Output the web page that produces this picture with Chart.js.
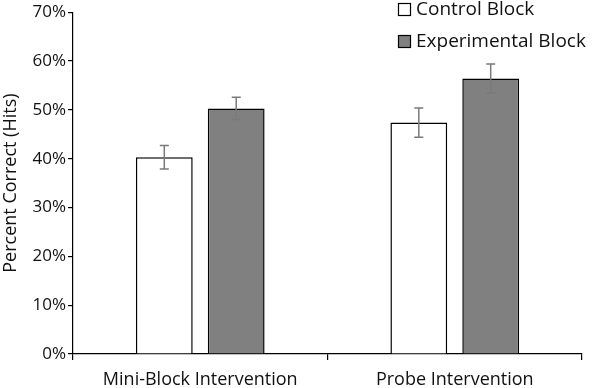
<!DOCTYPE html>
<html>
<head>
<meta charset="utf-8">
<script src="https://cdn.jsdelivr.net/npm/chart.js@4.4.0/dist/chart.umd.min.js"></script>
<style>
  html, body { margin: 0; padding: 0; background: #fff; }
  #wrap { width: 598px; height: 388px; }
</style>
</head>
<body>
<div id="wrap"><canvas id="myChart" width="598" height="388"></canvas></div>
<script>
// dados
var categorias = ['Mini-Block Intervention', 'Probe Intervention'];
var controle = [40.3, 47.4];
var controleErro = [2.4, 3.0];
var experimental = [50.3, 56.4];
var experimentalErro = [2.3, 3.0];
var ticksY = [0, 10, 20, 30, 40, 50, 60, 70];

var fonte = "'Open Sans', 'Lato', sans-serif";

// barras de erro
var barrasErro = {
  id: 'barrasErro',
  afterDatasetsDraw: function (chart) {
    var ctx = chart.ctx;
    var y = chart.scales.y;
    ctx.save();
    ctx.strokeStyle = '#7a7a7a';
    ctx.lineWidth = 1.5;
    chart.data.datasets.forEach(function (ds, i) {
      var meta = chart.getDatasetMeta(i);
      meta.data.forEach(function (bar, j) {
        var v = ds.data[j], e = ds.erro[j];
        var x = bar.x;
        var topo = y.getPixelForValue(v + e);
        var base = y.getPixelForValue(v - e);
        ctx.beginPath();
        ctx.moveTo(x, topo); ctx.lineTo(x, base);
        ctx.moveTo(x - 4.5, topo); ctx.lineTo(x + 4.5, topo);
        ctx.moveTo(x - 4.5, base); ctx.lineTo(x + 4.5, base);
        ctx.stroke();
      });
    });
    ctx.restore();
  }
};

// legenda dentro do grafico
var legenda = {
  id: 'legenda',
  afterDraw: function (chart) {
    var ctx = chart.ctx;
    ctx.save();
    ctx.font = '19px ' + fonte;
    ctx.textBaseline = 'middle';
    chart.data.datasets.forEach(function (ds, i) {
      var yy = 3 + i * 32;
      ctx.fillStyle = ds.backgroundColor;
      ctx.fillRect(398.5, yy + 0.5, 12, 12);
      ctx.strokeStyle = '#000';
      ctx.lineWidth = 1.2;
      ctx.strokeRect(398.5, yy + 0.5, 12, 12);
      ctx.fillStyle = '#111';
      ctx.fillText(ds.label, 416, yy + 7);
    });
    ctx.restore();
  }
};

var data = {
  labels: categorias,
  datasets: [{
    label: 'Control Block',
    data: controle,
    erro: controleErro,
    backgroundColor: '#ffffff',
    borderColor: '#000000',
    borderWidth: 1.5,
    categoryPercentage: 0.565,
    barPercentage: 0.79
  }, {
    label: 'Experimental Block',
    data: experimental,
    erro: experimentalErro,
    backgroundColor: '#808080',
    borderColor: '#000000',
    borderWidth: 1.5,
    categoryPercentage: 0.565,
    barPercentage: 0.79
  }]
};

var config = {
  type: 'bar',
  data: data,
  options: {
    responsive: false,
    animation: false,
    layout: { padding: { top: 11, right: 16, left: 0, bottom: 0 } },
    plugins: { legend: { display: false }, tooltip: { enabled: false } },
    scales: {
      x: {
        grid: { display: true, offset: true, drawOnChartArea: false, drawTicks: true, tickLength: 6, color: '#000', lineWidth: 1.2 },
        border: { display: true, color: '#000', width: 1.2 },
        ticks: { color: '#111', font: { family: fonte, size: 18 }, padding: 9 },
        afterFit: function (s) { s.height = 34; }
      },
      y: {
        min: 0,
        max: 70,
        afterBuildTicks: function (s) { s.ticks = ticksY.map(function (v) { return { value: v }; }); },
        grid: { display: true, drawOnChartArea: false, drawTicks: true, tickLength: 5, color: '#000', lineWidth: 1.2 },
        border: { display: true, color: '#000', width: 1.2 },
        ticks: { color: '#111', font: { family: fonte, size: 17 }, padding: 2, callback: function (v) { return v + '%'; } },
        title: { display: true, text: 'Percent Correct (Hits)', color: '#111', font: { family: fonte, size: 18 }, padding: 0 },
        afterFit: function (s) { s.width = 73; }
      }
    }
  },
  plugins: [barrasErro, legenda]
};

myChart = new Chart(document.getElementById('myChart'), config);
</script>
</body>
</html>
